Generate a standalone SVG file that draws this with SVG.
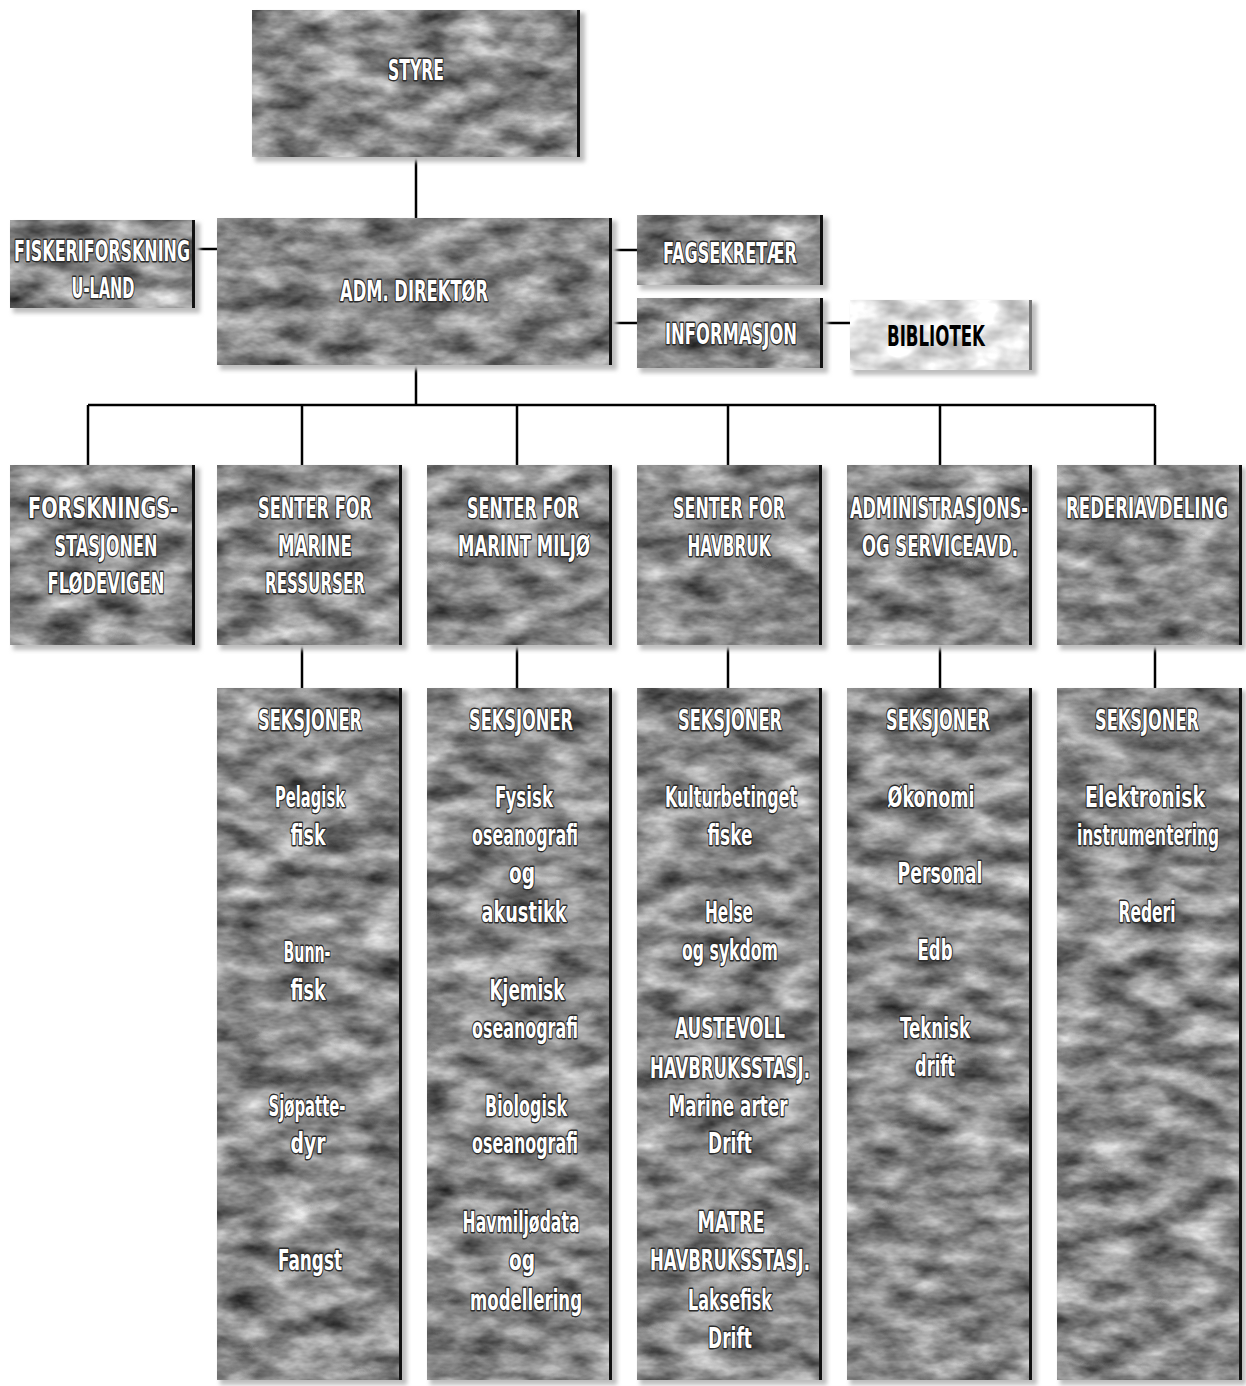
<svg xmlns="http://www.w3.org/2000/svg" width="1246" height="1386" viewBox="0 0 1246 1386">
<defs>
<filter id="marble" x="0" y="0" width="1" height="1" color-interpolation-filters="sRGB">
<feTurbulence type="fractalNoise" baseFrequency="0.022 0.045" numOctaves="4" seed="7" result="n"/>
<feColorMatrix in="n" type="matrix" values="0.95 0 0 0 0.06  0.95 0 0 0 0.06  0.95 0 0 0 0.06  0 0 0 0 1" result="g"/>
<feComposite in="g" in2="SourceGraphic" operator="in"/>
</filter>
<filter id="light" x="0" y="0" width="1" height="1" color-interpolation-filters="sRGB">
<feTurbulence type="fractalNoise" baseFrequency="0.03 0.05" numOctaves="3" seed="11" result="n"/>
<feColorMatrix in="n" type="matrix" values="0.6 0 0 0 0.58  0.6 0 0 0 0.58  0.6 0 0 0 0.58  0 0 0 0 1" result="g"/>
<feComposite in="g" in2="SourceGraphic" operator="in"/>
</filter>
<filter id="soft" x="-0.1" y="-0.1" width="1.2" height="1.2">
<feGaussianBlur stdDeviation="2"/>
</filter>
</defs>
<style>
.sh{fill:#bdbdbd;filter:url(#soft)}
.bx{fill:#888;filter:url(#marble)}
.bl{fill:#eee;filter:url(#light)}
.ed{stroke:#111;stroke-width:3;fill:none}
.t{font-family:"Liberation Sans Narrow","DejaVu Sans Condensed","Liberation Sans",sans-serif;font-weight:bold;font-size:22.4px;fill:#fff;stroke:#2a2a2a;stroke-width:2.2;paint-order:stroke;text-anchor:middle;stroke-linejoin:round}
.tb{font-family:"Liberation Sans Narrow","DejaVu Sans Condensed","Liberation Sans",sans-serif;font-weight:bold;font-size:22.4px;fill:#000;text-anchor:middle}
.c{stroke:#000;stroke-width:2.5;fill:none}
</style>
<rect width="1246" height="1386" fill="#fff"/>
<g id="connectors">
<path class="c" d="M416 157V218M195 249H217M612 250H637M612 323H637M823 323H850M416 365V405M88 405H1155M88 405V465M302 405V465M517 405V465M728 405V465M940 405V465M1155 405V465M302 645V688M517 645V688M728 645V688M940 645V688M1155 645V688"/>
</g>
<g id="styre">
<rect class="sh" x="255" y="13" width="330" height="149"/>
<rect class="bx" x="252" y="10" width="328" height="147"/>
<line class="ed" x1="578.5" y1="10" x2="578.5" y2="157"/>
<text class="t" transform="translate(416 80) scale(1 1.25)" textLength="56" lengthAdjust="spacingAndGlyphs">STYRE</text>
</g>
<g id="adm">
<rect class="sh" x="220" y="221" width="397" height="149"/>
<rect class="bx" x="217" y="218" width="395" height="147"/>
<line class="ed" x1="610.5" y1="218" x2="610.5" y2="365"/>
<text class="t" transform="translate(414 301) scale(1 1.25)" textLength="148" lengthAdjust="spacingAndGlyphs">ADM. DIREKTØR</text>
</g>
<g id="fiskeriforskning">
<rect class="sh" x="13" y="223" width="187" height="90"/>
<rect class="bx" x="10" y="220" width="185" height="88"/>
<line class="ed" x1="193.5" y1="220" x2="193.5" y2="308"/>
<text class="t" transform="translate(102 261) scale(1 1.25)" textLength="176" lengthAdjust="spacingAndGlyphs">FISKERIFORSKNING</text>
<text class="t" transform="translate(103 298) scale(1 1.25)" textLength="63" lengthAdjust="spacingAndGlyphs">U-LAND</text>
</g>
<g id="fagsekretaer">
<rect class="sh" x="640" y="218" width="188" height="72"/>
<rect class="bx" x="637" y="215" width="186" height="70"/>
<line class="ed" x1="821.5" y1="215" x2="821.5" y2="285"/>
<text class="t" transform="translate(730 263) scale(1 1.25)" textLength="134" lengthAdjust="spacingAndGlyphs">FAGSEKRETÆR</text>
</g>
<g id="informasjon">
<rect class="sh" x="640" y="301" width="188" height="72"/>
<rect class="bx" x="637" y="298" width="186" height="70"/>
<line class="ed" x1="821.5" y1="298" x2="821.5" y2="368"/>
<text class="t" transform="translate(731 344) scale(1 1.25)" textLength="132" lengthAdjust="spacingAndGlyphs">INFORMASJON</text>
</g>
<g id="bibliotek">
<rect class="sh" x="853" y="303" width="184" height="72"/>
<rect class="bl" x="850" y="300" width="182" height="70"/>
<line class="ed" x1="1030.5" y1="300" x2="1030.5" y2="370" style="stroke:#777"/>
<text class="tb" transform="translate(936 346) scale(1 1.25)" textLength="98" lengthAdjust="spacingAndGlyphs">BIBLIOTEK</text>
</g>
<g id="flodevigen">
<rect class="sh" x="13" y="468" width="187" height="182"/>
<rect class="bx" x="10" y="465" width="185" height="180"/>
<line class="ed" x1="193.5" y1="465" x2="193.5" y2="645"/>
<text class="t" transform="translate(103 518) scale(1 1.25)" textLength="150" lengthAdjust="spacingAndGlyphs">FORSKNINGS-</text>
<text class="t" transform="translate(106 556) scale(1 1.25)" textLength="103" lengthAdjust="spacingAndGlyphs">STASJONEN</text>
<text class="t" transform="translate(106 593) scale(1 1.25)" textLength="117" lengthAdjust="spacingAndGlyphs">FLØDEVIGEN</text>
</g>
<g id="marine-ressurser">
<rect class="sh" x="220" y="468" width="187" height="182"/>
<rect class="bx" x="217" y="465" width="185" height="180"/>
<line class="ed" x1="400.5" y1="465" x2="400.5" y2="645"/>
<text class="t" transform="translate(315 518) scale(1 1.25)" textLength="114" lengthAdjust="spacingAndGlyphs">SENTER FOR</text>
<text class="t" transform="translate(315 556) scale(1 1.25)" textLength="74" lengthAdjust="spacingAndGlyphs">MARINE</text>
<text class="t" transform="translate(315 593) scale(1 1.25)" textLength="100" lengthAdjust="spacingAndGlyphs">RESSURSER</text>
</g>
<g id="marint-miljo">
<rect class="sh" x="430" y="468" width="187" height="182"/>
<rect class="bx" x="427" y="465" width="185" height="180"/>
<line class="ed" x1="610.5" y1="465" x2="610.5" y2="645"/>
<text class="t" transform="translate(523 518) scale(1 1.25)" textLength="112" lengthAdjust="spacingAndGlyphs">SENTER FOR</text>
<text class="t" transform="translate(524 556) scale(1 1.25)" textLength="132" lengthAdjust="spacingAndGlyphs">MARINT MILJØ</text>
</g>
<g id="havbruk">
<rect class="sh" x="640" y="468" width="187" height="182"/>
<rect class="bx" x="637" y="465" width="185" height="180"/>
<line class="ed" x1="820.5" y1="465" x2="820.5" y2="645"/>
<text class="t" transform="translate(729 518) scale(1 1.25)" textLength="112" lengthAdjust="spacingAndGlyphs">SENTER FOR</text>
<text class="t" transform="translate(729 556) scale(1 1.25)" textLength="83" lengthAdjust="spacingAndGlyphs">HAVBRUK</text>
</g>
<g id="administrasjon">
<rect class="sh" x="850" y="468" width="187" height="182"/>
<rect class="bx" x="847" y="465" width="185" height="180"/>
<line class="ed" x1="1030.5" y1="465" x2="1030.5" y2="645"/>
<text class="t" transform="translate(939 518) scale(1 1.25)" textLength="178" lengthAdjust="spacingAndGlyphs">ADMINISTRASJONS-</text>
<text class="t" transform="translate(940 556) scale(1 1.25)" textLength="156" lengthAdjust="spacingAndGlyphs">OG SERVICEAVD.</text>
</g>
<g id="rederiavdeling">
<rect class="sh" x="1060" y="468" width="186" height="182"/>
<rect class="bx" x="1057" y="465" width="185" height="180"/>
<line class="ed" x1="1240.5" y1="465" x2="1240.5" y2="645"/>
<text class="t" transform="translate(1147 518) scale(1 1.25)" textLength="162" lengthAdjust="spacingAndGlyphs">REDERIAVDELING</text>
</g>
<g id="seksjoner-ressurser">
<rect class="sh" x="220" y="691" width="187" height="694"/>
<rect class="bx" x="217" y="688" width="185" height="692"/>
<line class="ed" x1="400.5" y1="688" x2="400.5" y2="1380"/>
<text class="t" transform="translate(310 730) scale(1 1.25)" textLength="104" lengthAdjust="spacingAndGlyphs">SEKSJONER</text>
<text class="t" transform="translate(310 807) scale(1 1.25)" textLength="70" lengthAdjust="spacingAndGlyphs">Pelagisk</text>
<text class="t" transform="translate(308 845) scale(1 1.25)" textLength="35" lengthAdjust="spacingAndGlyphs">fisk</text>
<text class="t" transform="translate(307 962) scale(1 1.25)" textLength="47" lengthAdjust="spacingAndGlyphs">Bunn-</text>
<text class="t" transform="translate(308 1000) scale(1 1.25)" textLength="35" lengthAdjust="spacingAndGlyphs">fisk</text>
<text class="t" transform="translate(307 1116) scale(1 1.25)" textLength="77" lengthAdjust="spacingAndGlyphs">Sjøpatte-</text>
<text class="t" transform="translate(308 1153) scale(1 1.25)" textLength="35" lengthAdjust="spacingAndGlyphs">dyr</text>
<text class="t" transform="translate(310 1270) scale(1 1.25)" textLength="64" lengthAdjust="spacingAndGlyphs">Fangst</text>
</g>
<g id="seksjoner-miljo">
<rect class="sh" x="430" y="691" width="187" height="694"/>
<rect class="bx" x="427" y="688" width="185" height="692"/>
<line class="ed" x1="610.5" y1="688" x2="610.5" y2="1380"/>
<text class="t" transform="translate(521 730) scale(1 1.25)" textLength="104" lengthAdjust="spacingAndGlyphs">SEKSJONER</text>
<text class="t" transform="translate(524 807) scale(1 1.25)" textLength="58" lengthAdjust="spacingAndGlyphs">Fysisk</text>
<text class="t" transform="translate(525 845) scale(1 1.25)" textLength="106" lengthAdjust="spacingAndGlyphs">oseanografi</text>
<text class="t" transform="translate(522 883) scale(1 1.25)" textLength="26" lengthAdjust="spacingAndGlyphs">og</text>
<text class="t" transform="translate(524 922) scale(1 1.25)" textLength="85" lengthAdjust="spacingAndGlyphs">akustikk</text>
<text class="t" transform="translate(527 1000) scale(1 1.25)" textLength="75" lengthAdjust="spacingAndGlyphs">Kjemisk</text>
<text class="t" transform="translate(525 1038) scale(1 1.25)" textLength="106" lengthAdjust="spacingAndGlyphs">oseanografi</text>
<text class="t" transform="translate(526 1116) scale(1 1.25)" textLength="82" lengthAdjust="spacingAndGlyphs">Biologisk</text>
<text class="t" transform="translate(525 1153) scale(1 1.25)" textLength="106" lengthAdjust="spacingAndGlyphs">oseanografi</text>
<text class="t" transform="translate(521 1232) scale(1 1.25)" textLength="117" lengthAdjust="spacingAndGlyphs">Havmiljødata</text>
<text class="t" transform="translate(522 1270) scale(1 1.25)" textLength="26" lengthAdjust="spacingAndGlyphs">og</text>
<text class="t" transform="translate(526 1310) scale(1 1.25)" textLength="112" lengthAdjust="spacingAndGlyphs">modellering</text>
</g>
<g id="seksjoner-havbruk">
<rect class="sh" x="640" y="691" width="187" height="694"/>
<rect class="bx" x="637" y="688" width="185" height="692"/>
<line class="ed" x1="820.5" y1="688" x2="820.5" y2="1380"/>
<text class="t" transform="translate(730 730) scale(1 1.25)" textLength="104" lengthAdjust="spacingAndGlyphs">SEKSJONER</text>
<text class="t" transform="translate(731 807) scale(1 1.25)" textLength="132" lengthAdjust="spacingAndGlyphs">Kulturbetinget</text>
<text class="t" transform="translate(730 845) scale(1 1.25)" textLength="45" lengthAdjust="spacingAndGlyphs">fiske</text>
<text class="t" transform="translate(729 922) scale(1 1.25)" textLength="48" lengthAdjust="spacingAndGlyphs">Helse</text>
<text class="t" transform="translate(730 960) scale(1 1.25)" textLength="96" lengthAdjust="spacingAndGlyphs">og sykdom</text>
<text class="t" transform="translate(730 1038) scale(1 1.25)" textLength="110" lengthAdjust="spacingAndGlyphs">AUSTEVOLL</text>
<text class="t" transform="translate(730 1078) scale(1 1.25)" textLength="160" lengthAdjust="spacingAndGlyphs">HAVBRUKSSTASJ.</text>
<text class="t" transform="translate(728 1116) scale(1 1.25)" textLength="119" lengthAdjust="spacingAndGlyphs">Marine arter</text>
<text class="t" transform="translate(730 1153) scale(1 1.25)" textLength="44" lengthAdjust="spacingAndGlyphs">Drift</text>
<text class="t" transform="translate(731 1232) scale(1 1.25)" textLength="67" lengthAdjust="spacingAndGlyphs">MATRE</text>
<text class="t" transform="translate(730 1270) scale(1 1.25)" textLength="160" lengthAdjust="spacingAndGlyphs">HAVBRUKSSTASJ.</text>
<text class="t" transform="translate(730 1310) scale(1 1.25)" textLength="84" lengthAdjust="spacingAndGlyphs">Laksefisk</text>
<text class="t" transform="translate(730 1348) scale(1 1.25)" textLength="44" lengthAdjust="spacingAndGlyphs">Drift</text>
</g>
<g id="seksjoner-administrasjon">
<rect class="sh" x="850" y="691" width="187" height="694"/>
<rect class="bx" x="847" y="688" width="185" height="692"/>
<line class="ed" x1="1030.5" y1="688" x2="1030.5" y2="1380"/>
<text class="t" transform="translate(938 730) scale(1 1.25)" textLength="104" lengthAdjust="spacingAndGlyphs">SEKSJONER</text>
<text class="t" transform="translate(931 807) scale(1 1.25)" textLength="87" lengthAdjust="spacingAndGlyphs">Økonomi</text>
<text class="t" transform="translate(940 883) scale(1 1.25)" textLength="85" lengthAdjust="spacingAndGlyphs">Personal</text>
<text class="t" transform="translate(935 960) scale(1 1.25)" textLength="35" lengthAdjust="spacingAndGlyphs">Edb</text>
<text class="t" transform="translate(935 1038) scale(1 1.25)" textLength="70" lengthAdjust="spacingAndGlyphs">Teknisk</text>
<text class="t" transform="translate(935 1076) scale(1 1.25)" textLength="40" lengthAdjust="spacingAndGlyphs">drift</text>
</g>
<g id="seksjoner-rederi">
<rect class="sh" x="1060" y="691" width="186" height="694"/>
<rect class="bx" x="1057" y="688" width="185" height="692"/>
<line class="ed" x1="1240.5" y1="688" x2="1240.5" y2="1380"/>
<text class="t" transform="translate(1147 730) scale(1 1.25)" textLength="104" lengthAdjust="spacingAndGlyphs">SEKSJONER</text>
<text class="t" transform="translate(1145 807) scale(1 1.25)" textLength="120" lengthAdjust="spacingAndGlyphs">Elektronisk</text>
<text class="t" transform="translate(1148 845) scale(1 1.25)" textLength="142" lengthAdjust="spacingAndGlyphs">instrumentering</text>
<text class="t" transform="translate(1147 922) scale(1 1.25)" textLength="57" lengthAdjust="spacingAndGlyphs">Rederi</text>
</g>
</svg>
